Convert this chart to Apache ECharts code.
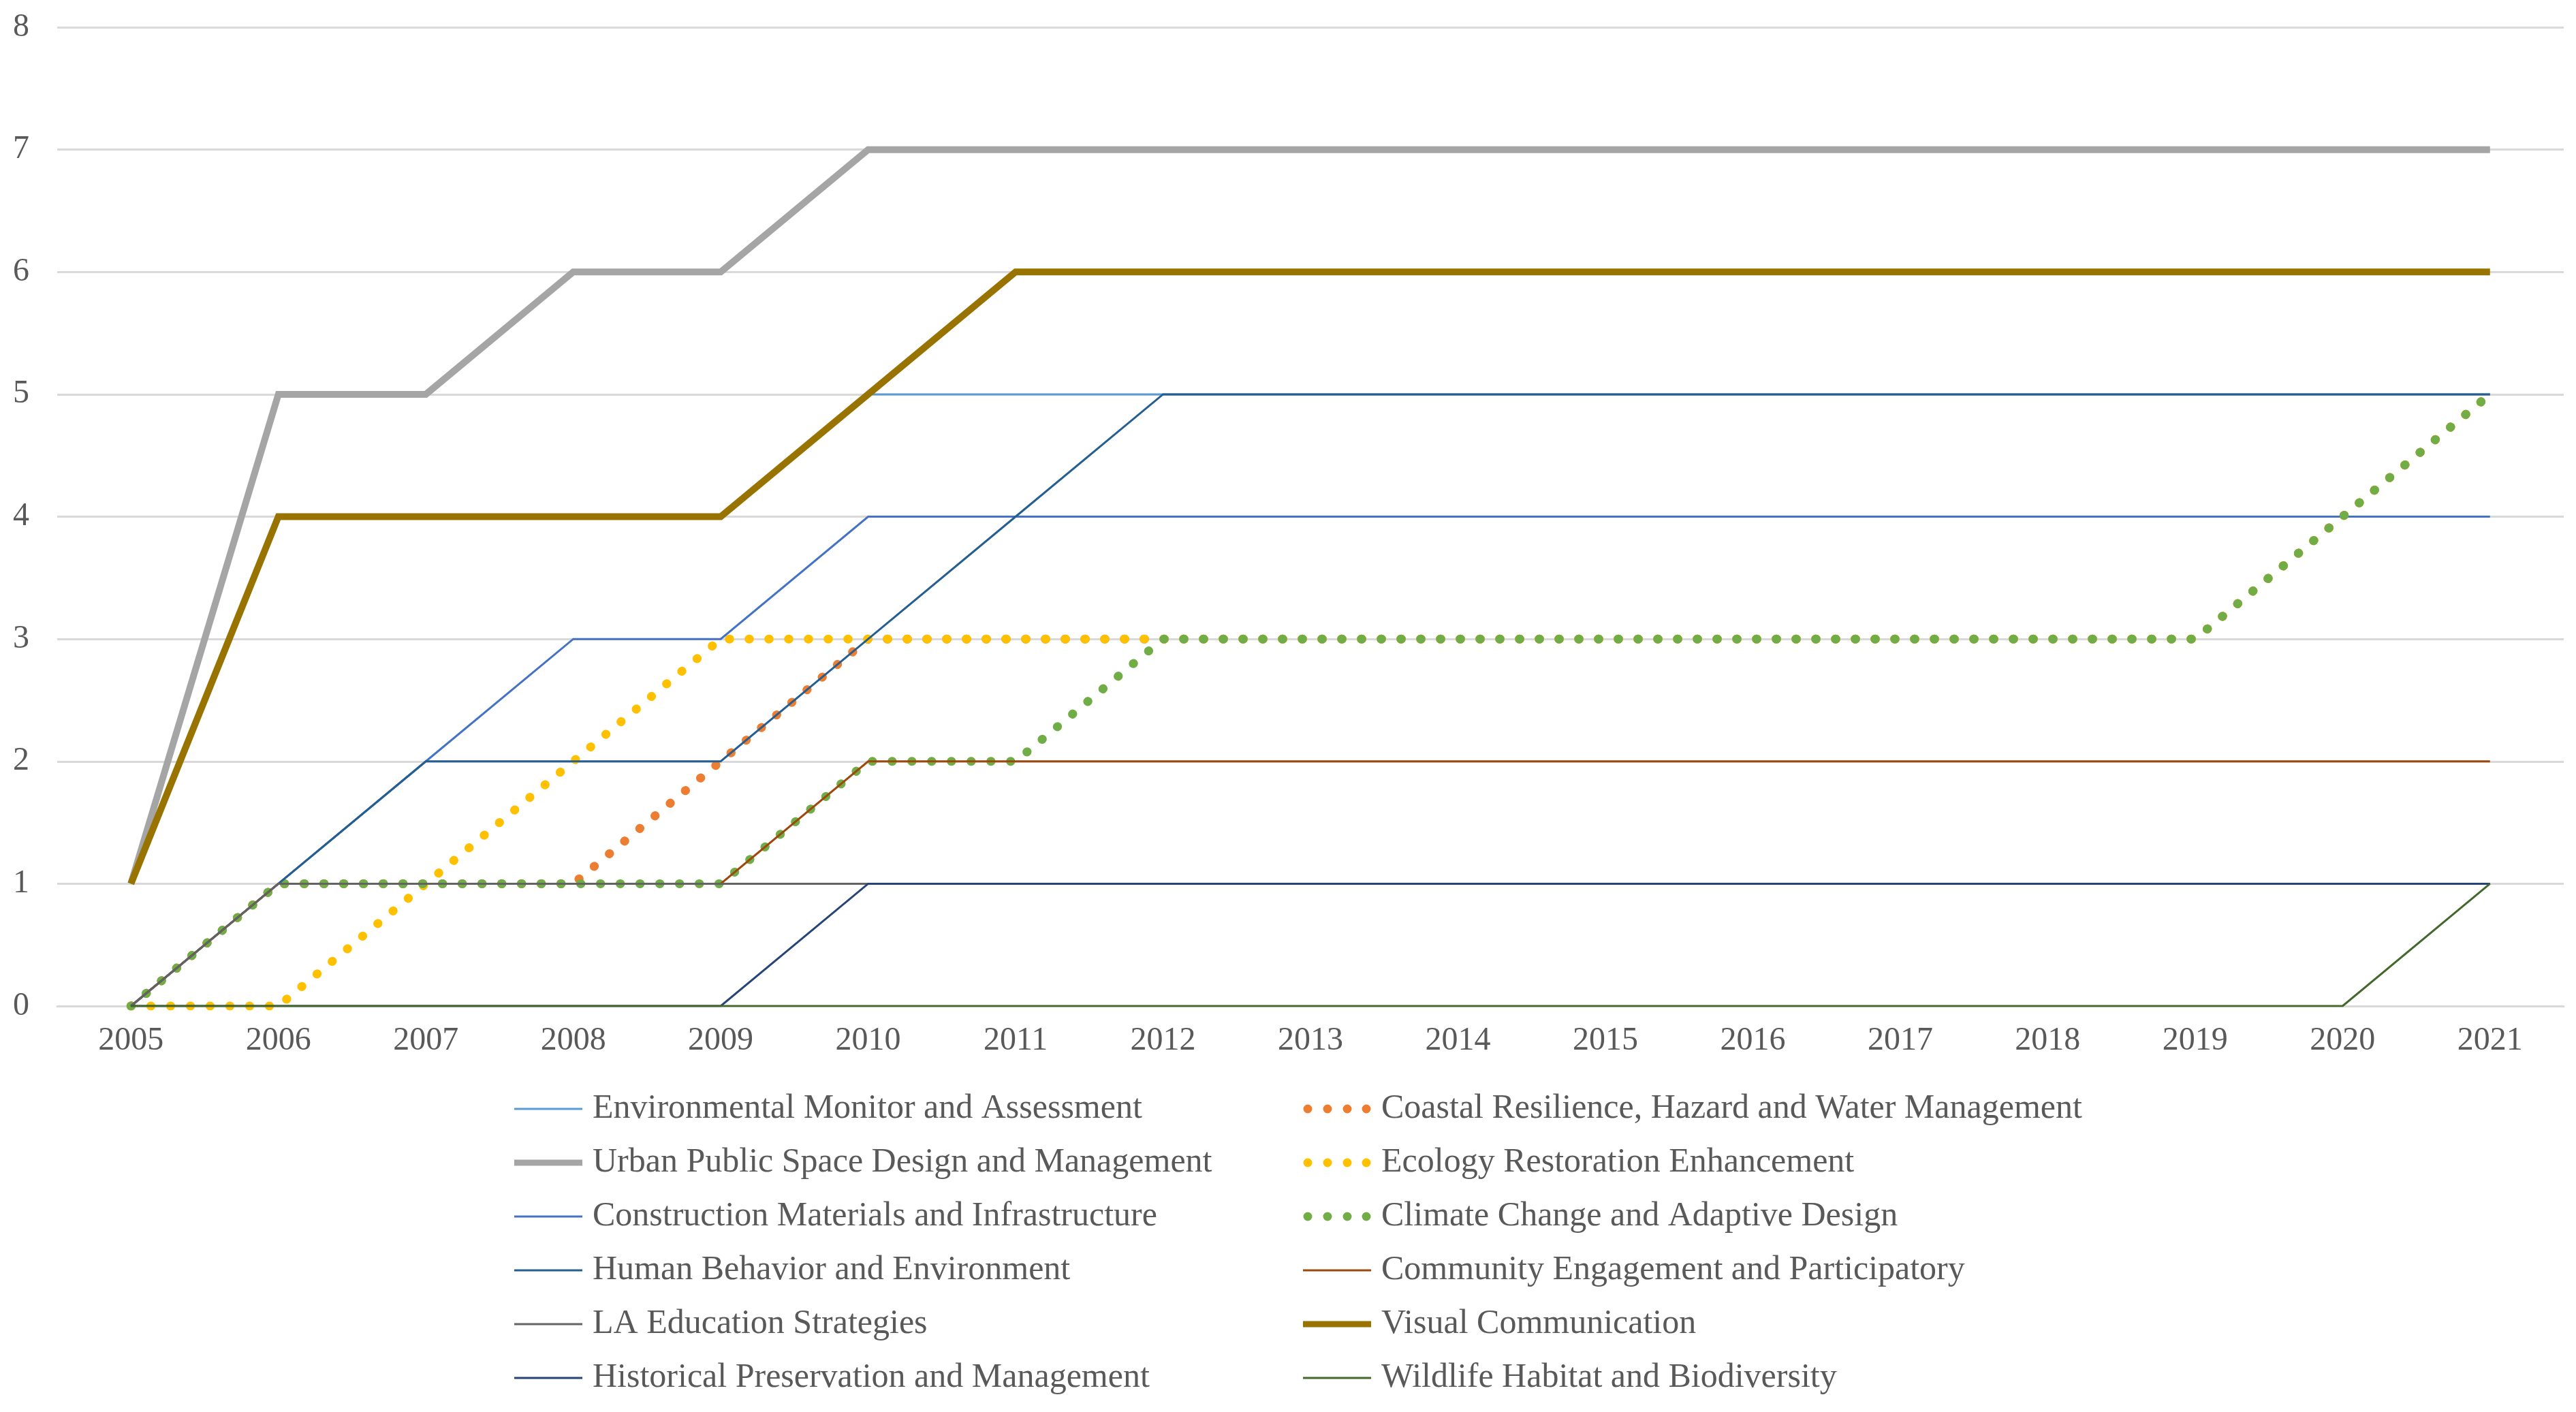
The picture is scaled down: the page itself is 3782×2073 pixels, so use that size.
<!DOCTYPE html>
<html>
<head>
<meta charset="utf-8">
<script src="https://cdn.jsdelivr.net/npm/echarts@6/dist/echarts.min.js"></script>
<style>html,body{margin:0;padding:0;background:#fff;}#c{width:3782px;height:2073px;}</style>
</head>
<body>
<div id="c"></div>
<script>
const years = ['2005','2006','2007','2008','2009','2010','2011','2012','2013','2014','2015','2016','2017','2018','2019','2020','2021'];
const yTicks = [0,1,2,3,4,5,6,7,8];

const envMonitor   = [1,4,4,4,4,5,5,5,5,5,5,5,5,5,5,5,5];
const coastal      = [0,1,1,1,2,3,3,3,3,3,3,3,3,3,3,4,5];
const urbanPublic  = [1,5,5,6,6,7,7,7,7,7,7,7,7,7,7,7,7];
const ecology      = [0,0,1,2,3,3,3,3,3,3,3,3,3,3,3,4,5];
const construction = [0,1,2,3,3,4,4,4,4,4,4,4,4,4,4,4,4];
const climate      = [0,1,1,1,1,2,2,3,3,3,3,3,3,3,3,4,5];
const human        = [0,1,2,2,2,3,4,5,5,5,5,5,5,5,5,5,5];
const community    = [0,1,1,1,1,2,2,2,2,2,2,2,2,2,2,2,2];
const laEducation  = [0,1,1,1,1,1,1,1,1,1,1,1,1,1,1,1,1];
const visualComm   = [1,4,4,4,4,5,6,6,6,6,6,6,6,6,6,6,6];
const historical   = [0,0,0,0,0,1,1,1,1,1,1,1,1,1,1,1,1];
const wildlife     = [0,0,0,0,0,0,0,0,0,0,0,0,0,0,0,0,1];

const names = {
  env:'Environmental Monitor and Assessment',
  coastal:'Coastal Resilience, Hazard and Water Management',
  urban:'Urban Public Space Design and Management',
  eco:'Ecology Restoration Enhancement',
  cons:'Construction Materials and Infrastructure',
  clim:'Climate Change and Adaptive Design',
  human:'Human Behavior and Environment',
  comm:'Community Engagement and Participatory',
  la:'LA Education Strategies',
  vis:'Visual Communication',
  hist:'Historical Preservation and Management',
  wild:'Wildlife Habitat and Biodiversity'
};

// legend icon shapes (box 100 x 14, tiny corner anchors keep the scale 1:1)
const anchors = 'M0,0h0.01v0.01h-0.01z M99.99,13.99h0.01v0.01h-0.01z ';
const thinIcon = 'path://' + anchors + 'M0,5.5h100v3h-100z';
const thickIcon = 'path://' + anchors + 'M0,2.5h100v9h-100z';
function circ(cx){ return 'M'+(cx-6.5)+',7a6.5,6.5 0 1,0 13,0a6.5,6.5 0 1,0 -13,0z '; }
const dotIcon = 'path://' + anchors + circ(7) + circ(36) + circ(65) + circ(93);

function solid(name, data, color, width){
  return {name, type:'line', data, symbol:'none', showSymbol:false, smooth:false,
    lineStyle:{color, width, type:'solid', cap:'butt', join:'miter'}, itemStyle:{color}, emphasis:{disabled:true}, animation:false};
}
function dotted(name, data, color){
  return {name, type:'line', data, symbol:'none', showSymbol:false, smooth:false,
    lineStyle:{color, width:13, type:[0.5,28.5], cap:'round', join:'round'}, itemStyle:{color}, emphasis:{disabled:true}, animation:false};
}

const series = [
  solid(names.env, envMonitor, '#5B9BD5', 3),
  dotted(names.coastal, coastal, '#ED7D31'),
  solid(names.urban, urbanPublic, '#A5A5A5', 10),
  dotted(names.eco, ecology, '#FFC000'),
  solid(names.cons, construction, '#4472C4', 3),
  dotted(names.clim, climate, '#70AD47'),
  solid(names.human, human, '#255E91', 3),
  solid(names.comm, community, '#9E480E', 3),
  solid(names.la, laEducation, '#636363', 3),
  solid(names.vis, visualComm, '#997300', 10),
  solid(names.hist, historical, '#264478', 3),
  solid(names.wild, wildlife, '#43682B', 3)
];

const iconOf = {};
iconOf[names.env]=thinIcon; iconOf[names.coastal]=dotIcon; iconOf[names.urban]=thickIcon;
iconOf[names.eco]=dotIcon; iconOf[names.cons]=thinIcon; iconOf[names.clim]=dotIcon;
iconOf[names.human]=thinIcon; iconOf[names.comm]=thinIcon; iconOf[names.la]=thinIcon;
iconOf[names.vis]=thickIcon; iconOf[names.hist]=thinIcon; iconOf[names.wild]=thinIcon;

const legendText = {color:'#595959', fontFamily:'Liberation Serif', fontSize:50, lineHeight:50, padding:[0,0,0,10]};
function legendItems(list){ return list.map(n => ({name:n, icon:iconOf[n]})); }

const chart = echarts.init(document.getElementById('c'), null, {renderer:'canvas'});
chart.setOption({
  backgroundColor:'#ffffff',
  animation:false,
  grid:{left:84, right:18, top:40, bottom:596, containLabel:false},
  xAxis:{type:'category', data:years, boundaryGap:true,
    axisLine:{show:true, lineStyle:{color:'#D9D9D9', width:3}},
    axisTick:{show:false},
    axisLabel:{color:'#595959', fontFamily:'Liberation Serif', fontSize:48, margin:27, interval:0},
    splitLine:{show:false}},
  yAxis:{type:'value', min:yTicks[0], max:yTicks[yTicks.length-1], interval:1,
    axisLine:{show:false}, axisTick:{show:false},
    axisLabel:{color:'#595959', fontFamily:'Liberation Serif', fontSize:48, margin:41},
    splitLine:{show:true, lineStyle:{color:'#D9D9D9', width:3}}},
  legend:[
    {orient:'vertical', left:755, top:1603, padding:0, itemWidth:100, itemHeight:14, itemGap:29,
     data:legendItems([names.env, names.urban, names.cons, names.human, names.la, names.hist]), textStyle:legendText, selectedMode:false},
    {orient:'vertical', left:1913, top:1603, padding:0, itemWidth:100, itemHeight:14, itemGap:29,
     data:legendItems([names.coastal, names.eco, names.clim, names.comm, names.vis, names.wild]), textStyle:legendText, selectedMode:false}
  ],
  series
});
</script>
</body>
</html>
